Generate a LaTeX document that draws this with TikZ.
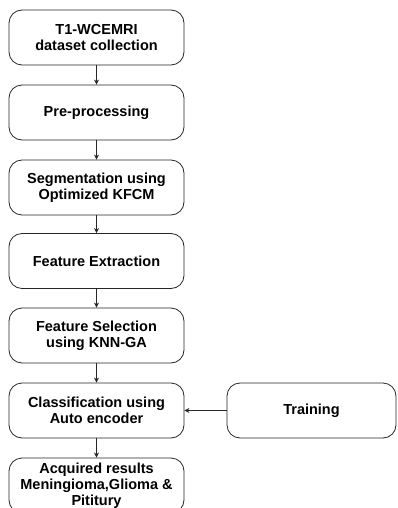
\documentclass[tikz,border=0pt]{standalone}
\usepackage{fontspec}
\setmainfont{Liberation Sans}
\usetikzlibrary{arrows.meta}
\begin{document}
\begin{tikzpicture}[x=1pt,y=-1pt,
  flowbox/.style={draw=black!85, line width=0.8pt, rounded corners=13pt, minimum width=175pt, minimum height=55pt, align=center, inner sep=2pt, font=\fontsize{14.5}{16}\selectfont\bfseries},
  flowarrow/.style={draw=black!85, line width=0.8pt, -{Stealth[length=5pt,width=5pt]}}]
\useasboundingbox (0,0) rectangle (397,508);
\node[flowbox] (b1) at (96.5,37.5) {T1-WCEMRI\\dataset collection};
\node[flowbox] (b2) at (96.5,112.5) {Pre-processing};
\node[flowbox] (b3) at (96.5,187.5) {Segmentation using\\Optimized KFCM};
\node[flowbox] (b4) at (96.5,261) {Feature Extraction};
\node[flowbox] (b5) at (96.5,335.5) {Feature Selection\\using KNN-GA};
\node[flowbox] (b6) at (96.5,410.5) {Classification using\\Auto encoder};
\node[flowbox] (b7) at (96.5,485.5) {Acquired results\\Meningioma,Glioma \&\\Pititury};
\node[flowbox, minimum width=169pt] (tr) at (311.5,410.5) {Training};
\draw[flowarrow] (b1) -- (b2);
\draw[flowarrow] (b2) -- (b3);
\draw[flowarrow] (b3) -- (b4);
\draw[flowarrow] (b4) -- (b5);
\draw[flowarrow] (b5) -- (b6);
\draw[flowarrow] (b6) -- (b7);
\draw[flowarrow] (tr) -- (b6);
\end{tikzpicture}
\end{document}
